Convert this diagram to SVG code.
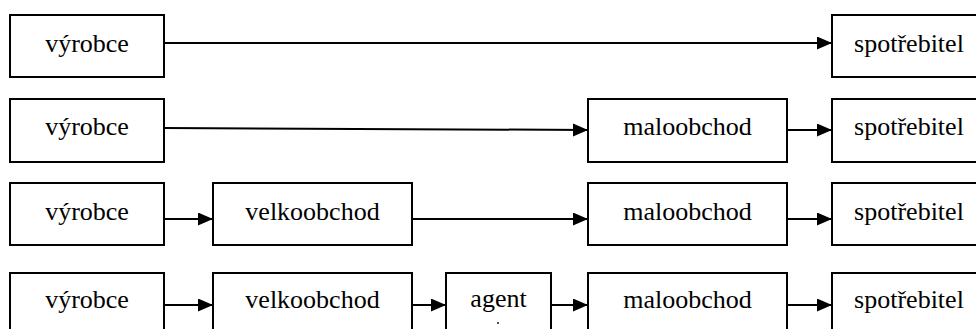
<svg xmlns="http://www.w3.org/2000/svg" width="976" height="329" viewBox="0 0 976 329">
  <style>
    .box { fill: #ffffff; stroke: #000000; stroke-width: 2; }
    .lbl { font-family: 'Liberation Serif', 'Times New Roman', serif; font-size: 26px; fill: #000000; text-anchor: middle; }
    .edge { fill: none; stroke: #000000; stroke-width: 2; marker-end: url(#arrow); }
  </style>
  <defs>
    <marker id="arrow" markerUnits="userSpaceOnUse" markerWidth="16" markerHeight="14" refX="15" refY="6.5" orient="auto">
      <path d="M0,0 L15,6.5 L0,13 Z" fill="#000000"/>
    </marker>
  </defs>

  <rect width="976" height="329" fill="#ffffff"/>

  <!-- row 1: producer -> consumer -->
  <g id="r1-vyrobce"><rect class="box" x="10" y="15" width="154" height="62"/><text class="lbl" x="87" y="52">výrobce</text></g>
  <g id="r1-spotrebitel"><rect class="box" x="832" y="15" width="154" height="62"/><text class="lbl" x="909" y="52">spotřebitel</text></g>

  <!-- row 2: producer -> retail -> consumer -->
  <g id="r2-vyrobce"><rect class="box" x="10" y="99" width="154" height="63"/><text class="lbl" x="87" y="135">výrobce</text></g>
  <g id="r2-maloobchod"><rect class="box" x="588" y="99" width="199" height="63"/><text class="lbl" x="687.5" y="135">maloobchod</text></g>
  <g id="r2-spotrebitel"><rect class="box" x="832" y="99" width="154" height="63"/><text class="lbl" x="909" y="135">spotřebitel</text></g>

  <!-- row 3: producer -> wholesale -> retail -> consumer -->
  <g id="r3-vyrobce"><rect class="box" x="10" y="183" width="154" height="62"/><text class="lbl" x="87" y="220">výrobce</text></g>
  <g id="r3-velkoobchod"><rect class="box" x="213" y="183" width="199" height="62"/><text class="lbl" x="312.5" y="220">velkoobchod</text></g>
  <g id="r3-maloobchod"><rect class="box" x="588" y="183" width="199" height="62"/><text class="lbl" x="687.5" y="220">maloobchod</text></g>
  <g id="r3-spotrebitel"><rect class="box" x="832" y="183" width="154" height="62"/><text class="lbl" x="909" y="220">spotřebitel</text></g>

  <!-- row 4: producer -> wholesale -> agent -> retail -> consumer -->
  <g id="r4-vyrobce"><rect class="box" x="10" y="273" width="154" height="70"/><text class="lbl" x="87" y="308">výrobce</text></g>
  <g id="r4-velkoobchod"><rect class="box" x="213" y="273" width="199" height="70"/><text class="lbl" x="312.5" y="308">velkoobchod</text></g>
  <g id="r4-agent"><rect class="box" x="446" y="273" width="105" height="70"/><text class="lbl" x="498.5" y="307">agent</text><circle cx="498" cy="323" r="0.9" fill="#000000"/></g>
  <g id="r4-maloobchod"><rect class="box" x="588" y="273" width="199" height="70"/><text class="lbl" x="687.5" y="308">maloobchod</text></g>
  <g id="r4-spotrebitel"><rect class="box" x="832" y="273" width="154" height="70"/><text class="lbl" x="909" y="308">spotřebitel</text></g>

  <g id="connectors">
    <line class="edge" x1="164" y1="43" x2="832" y2="43"/>

    <line class="edge" x1="164" y1="128" x2="588" y2="130"/>
    <line class="edge" x1="787" y1="130" x2="832" y2="130"/>

    <line class="edge" x1="164" y1="219" x2="213" y2="219"/>
    <line class="edge" x1="412" y1="219" x2="588" y2="219"/>
    <line class="edge" x1="787" y1="219" x2="832" y2="219"/>

    <line class="edge" x1="164" y1="305" x2="213" y2="305"/>
    <line class="edge" x1="412" y1="305" x2="446" y2="305"/>
    <line class="edge" x1="551" y1="305" x2="588" y2="305"/>
    <line class="edge" x1="787" y1="305" x2="832" y2="305"/>
  </g>
</svg>
